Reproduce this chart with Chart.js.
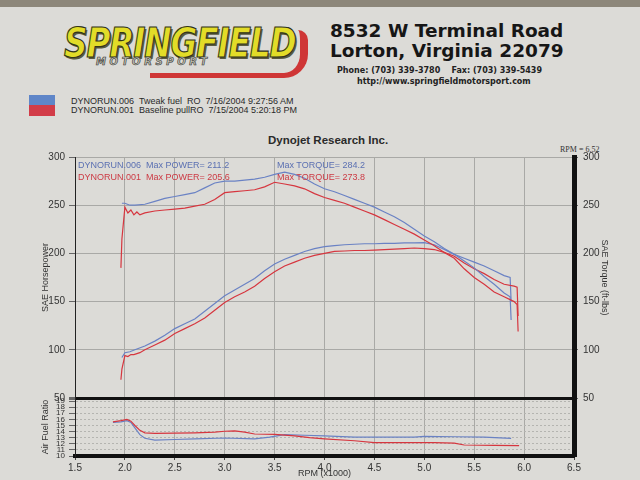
<!DOCTYPE html>
<html>
<head>
<meta charset="utf-8">
<script src="https://cdn.jsdelivr.net/npm/chart.js@4/dist/chart.umd.min.js"></script>
<style>
  body { margin: 0; width: 640px; height: 480px; overflow: hidden; background: #dcdbd7; font-family: "Liberation Sans", Arial, sans-serif; position: relative; }
  .abs { position: absolute; white-space: nowrap; }
  #strip { left: 0; top: 0; width: 640px; height: 7px; background: #8d877a; }
  .sf { left: 64px; top: 19px; font: italic 900 41px "DejaVu Sans"; color: #e2dc28; -webkit-text-stroke: 1.2px #33351a; text-shadow: 2px 2px 0 #5a5a40; transform: scaleX(0.8); transform-origin: left top; letter-spacing: -1.5px; }
  .ms { left: 96px; top: 56px; font: italic bold 10px "DejaVu Sans"; color: #c4c4b4; -webkit-text-stroke: 0.6px #333; letter-spacing: 3.6px; }
  .swoosh { left: 150px; top: 30px; width: 150px; height: 43px; border-right: 8px solid #cf3636; border-bottom: 5px solid #cf3636; border-bottom-right-radius: 24px; border-top-right-radius: 10px; }
  .addr { left: 330px; font: bold 18.5px "DejaVu Sans"; color: #161616; }
  .small { font: bold 8px "DejaVu Sans"; color: #222; }
  .leg { left: 71px; font-size: 9px; color: #2a2a2a; line-height: 9px; }
  .note { font-size: 9px; line-height: 9px; }
  #wrap { position: absolute; left: 0; top: 140px; width: 640px; height: 340px; }
</style>
</head>
<body>
<div class="abs" id="strip"></div>
<div class="abs swoosh"></div>
<div class="abs sf">SPRINGFIELD</div>
<div class="abs ms">MOTORSPORT</div>

<div class="abs addr" style="top:20px">8532 W Terminal Road</div>
<div class="abs addr" style="top:40px">Lorton, Virginia 22079</div>
<div class="abs small" style="left:337px; top:66px">Phone: (703) 339-3780 &nbsp;&nbsp; Fax: (703) 339-5439</div>
<div class="abs small" style="left:357px; top:77px">http://www.springfieldmotorsport.com</div>

<div class="abs" style="left:29px; top:95px; width:26px; height:10px; background:#5f86c8"></div>
<div class="abs" style="left:29px; top:105px; width:26px; height:11px; background:#d23c48"></div>
<div class="abs leg" style="top:97px">DYNORUN.006 &nbsp;Tweak fuel &nbsp;RO &nbsp;7/16/2004 9:27:56 AM</div>
<div class="abs leg" style="top:106px">DYNORUN.001 &nbsp;Baseline pullRO &nbsp;7/15/2004 5:20:18 PM</div>

<div class="abs" style="left:268px; top:134px; font-size:11.5px; font-weight:bold; color:#2a2a2a">Dynojet Research Inc.</div>
<div class="abs" style="left:560px; top:145px; font:8px 'Liberation Serif', serif; color:#333">RPM = 6.52</div>

<div id="wrap"><canvas id="dyno" width="640" height="340"></canvas></div>

<div class="abs note" style="left:78px; top:161px; color:#5b70b2">DYNORUN.006 &nbsp;Max POWER= 211.2</div>
<div class="abs note" style="left:78px; top:173px; color:#cc3a44">DYNORUN.001 &nbsp;Max POWER= 205.6</div>
<div class="abs note" style="left:277px; top:161px; color:#5b70b2">Max TORQUE= 284.2</div>
<div class="abs note" style="left:277px; top:173px; color:#cc3a44">Max TORQUE= 273.8</div>

<script>
// run 006 (Tweak fuel) - blue
const rpm006 = [1.97, 2.0, 2.05, 2.1, 2.2, 2.3, 2.4, 2.5, 2.6, 2.7, 2.8, 2.9, 3.0, 3.1, 3.2, 3.3, 3.4, 3.5, 3.6, 3.7, 3.8, 3.9, 4.0, 4.1, 4.2, 4.3, 4.4, 4.5, 4.6, 4.7, 4.8, 4.9, 5.0, 5.1, 5.2, 5.3, 5.4, 5.5, 5.6, 5.7, 5.8, 5.86, 5.87];
const tq006 = [252, 252, 250, 250, 251, 254, 257, 259, 261, 263, 268, 273, 275, 275, 276, 277, 279, 282, 284.2, 282, 278, 272, 267, 264, 260, 256, 252, 248, 243, 238, 232, 225, 218, 212, 205, 199, 192, 185, 176, 168, 159, 155, 131];
const hp006 = [92, 97, 98, 100, 104, 109, 115, 122, 127, 132, 140, 148, 156, 162, 168, 174, 182, 189, 194, 198, 202, 205, 207, 208, 209, 209.5, 210, 210, 210.5, 210.5, 211, 211, 211.2, 209, 204, 199, 195, 191, 187, 182, 177, 175, 150];

// run 001 (Baseline pull) - red
const rpm001 = [1.96, 1.97, 2.0, 2.03, 2.06, 2.09, 2.12, 2.15, 2.2, 2.3, 2.4, 2.5, 2.6, 2.7, 2.8, 2.9, 3.0, 3.1, 3.2, 3.3, 3.4, 3.5, 3.6, 3.7, 3.8, 3.9, 4.0, 4.1, 4.2, 4.3, 4.4, 4.5, 4.6, 4.7, 4.8, 4.9, 5.0, 5.1, 5.2, 5.3, 5.4, 5.5, 5.6, 5.7, 5.8, 5.9, 5.93, 5.94];
const tq001 = [185, 215, 248, 242, 245, 240, 243, 240, 242, 244, 245, 246, 247, 249, 251, 256, 263, 264, 265, 266, 269, 273.8, 272, 270, 267, 262, 258, 255, 252, 248, 244, 240, 235, 230, 225, 220, 214, 208, 201, 195, 184, 175, 168, 160, 155, 150, 147, 119];
const hp001 = [69, 80, 94, 93, 95, 95, 96, 97, 100, 105, 110, 117, 122, 127, 133, 141, 149, 155, 160, 166, 174, 181, 187, 191, 195, 198, 200, 202, 202.5, 203, 203, 203.5, 204, 204.5, 205, 205.6, 205, 204, 201, 197, 190, 184, 179, 173, 168, 166, 165, 135];

// air fuel ratio
const afrRpm006 = [1.88, 1.96, 2.02, 2.06, 2.1, 2.15, 2.2, 2.3, 2.5, 2.7, 3.0, 3.3, 3.45, 3.6, 3.8, 4.0, 4.3, 4.6, 4.9, 5.0, 5.3, 5.6, 5.87];
const afr006 = [15.5, 15.6, 15.8, 15.5, 14.6, 13.5, 12.9, 12.6, 12.7, 12.8, 12.95, 12.8, 13.1, 13.5, 13.4, 13.3, 13.1, 13.1, 13.1, 13.2, 13.15, 13.1, 12.9];
const afrRpm001 = [1.88, 1.96, 2.02, 2.06, 2.1, 2.15, 2.2, 2.3, 2.5, 2.7, 2.9, 3.0, 3.1, 3.2, 3.3, 3.5, 3.7, 3.85, 4.0, 4.3, 4.5, 4.8, 5.1, 5.3, 5.4, 5.7, 5.95];
const afr001 = [15.6, 15.8, 16.0, 15.7, 15.0, 14.2, 13.8, 13.7, 13.75, 13.8, 13.9, 14.05, 14.1, 13.9, 13.6, 13.55, 13.3, 13.0, 12.8, 12.5, 12.2, 12.2, 12.2, 12.1, 11.8, 11.75, 11.7];

const blue = '#6a82c4';
const red = '#d6363f';

function pts(xs, ys) {
    return xs.map((x, i) => ({ x: x, y: ys[i] }));
}

function line(xs, ys, color, axis) {
    return {
        data: pts(xs, ys),
        borderColor: color,
        borderWidth: 1.2,
        pointRadius: 0,
        yAxisID: axis
    };
}

const tickFont = { family: 'Liberation Sans', size: 10 };
const titleFont = { family: 'Liberation Sans', size: 9 };

new Chart(document.getElementById('dyno'), {
    type: 'line',
    data: {
        datasets: [
            line(rpm001, tq001, red, 'yTq'),
            line(rpm006, tq006, blue, 'yTq'),
            line(rpm001, hp001, red, 'y'),
            line(rpm006, hp006, blue, 'y'),
            line(afrRpm001, afr001, red, 'yAfr'),
            line(afrRpm006, afr006, blue, 'yAfr')
        ]
    },
    options: {
        responsive: false,
        animation: false,
        layout: { padding: { top: 17, left: 36, right: 26, bottom: 0 } },
        plugins: { legend: { display: false }, tooltip: { enabled: false } },
        scales: {
            x: {
                type: 'linear',
                min: 1.5,
                max: 6.5,
                ticks: { stepSize: 0.5, callback: v => v.toFixed(1), color: '#333', font: tickFont, padding: 2 },
                grid: { color: '#a9a9a6', tickLength: 4, tickColor: '#444' },
                border: { color: '#111', width: 4 },
                title: { display: true, text: 'RPM (x1000)', color: '#333', font: titleFont, padding: { top: 0, bottom: 1 } },
                afterFit: s => { s.height = 24; }
            },
            yAfr: {
                position: 'left',
                stack: 'left',
                stackWeight: 58,
                min: 10,
                max: 19.5,
                ticks: { stepSize: 1, autoSkip: false, includeBounds: false, color: '#333', font: { family: 'Liberation Sans', size: 8 }, padding: 4 },
                grid: { color: '#b4b4b0', tickLength: 6, tickColor: '#666' },
                border: { color: '#222', width: 1, dash: [2, 2] },
                title: { display: true, text: 'Air Fuel Ratio', color: '#333', font: titleFont, padding: 4 },
                afterFit: s => { s.width = 39; }
            },
            y: {
                position: 'left',
                stack: 'left',
                stackWeight: 241,
                min: 50,
                max: 300,
                ticks: { stepSize: 50, color: '#333', font: tickFont, padding: 4 },
                grid: {
                    color: c => c.tick && c.tick.value === 50 ? '#111' : '#a9a9a6',
                    lineWidth: c => c.tick && c.tick.value === 50 ? 3 : 1,
                    tickLength: 6,
                    tickColor: '#666'
                },
                border: { color: '#222', width: 1 },
                title: { display: true, text: 'SAE Horsepower', color: '#333', font: titleFont, padding: 4 },
                afterFit: s => { s.width = 39; }
            },
            yTq: {
                position: 'right',
                stack: 'right',
                stackWeight: 241,
                min: 50,
                max: 300,
                ticks: { stepSize: 50, color: '#333', font: tickFont, padding: 5 },
                grid: { drawOnChartArea: false, tickLength: 4, tickColor: '#666' },
                border: { color: '#111', width: 5 },
                title: { display: true, text: 'SAE Torque (ft-lbs)', color: '#333', font: titleFont, padding: 4 },
                afterFit: s => { s.width = 40; }
            },
            yAfrR: {
                position: 'right',
                stack: 'right',
                stackWeight: 58,
                min: 10,
                max: 19.5,
                ticks: { display: false },
                grid: { drawOnChartArea: false, drawTicks: false },
                border: { color: '#111', width: 5 },
                afterFit: s => { s.width = 40; }
            }
        }
    }
});
</script>
</body>
</html>
